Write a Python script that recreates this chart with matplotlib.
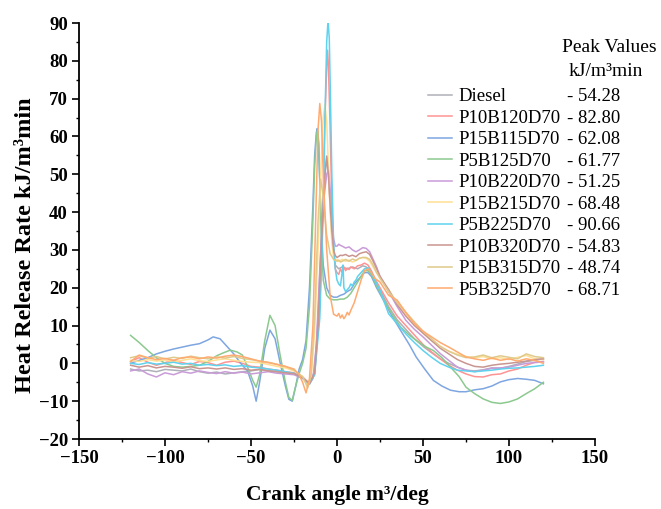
import matplotlib
matplotlib.use("Agg")
import matplotlib.pyplot as plt
from matplotlib.lines import Line2D
from matplotlib.ticker import MultipleLocator

plt.rcParams["font.family"] = ["Liberation Serif", "DejaVu Serif"]

# ---- data ----
series_names = ["Diesel", "P10B120D70", "P15B115D70", "P5B125D70", "P10B220D70",
                "P15B215D70", "P5B225D70", "P10B320D70", "P15B315D70", "P5B325D70"]
peak_labels = ["- 54.28", "- 82.80", "- 62.08", "- 61.77", "- 51.25",
               "- 68.48", "- 90.66", "- 54.83", "- 48.74", "- 68.71"]
series_colors = ["#aeb0b8", "#ff9393", "#7ea6e0", "#8cc98f", "#c99bd8",
                 "#ffdf92", "#5fd2ee", "#c99590", "#dfca8c", "#ffaa70"]

angle_base = [-120, -115, -110, -105, -100, -95, -90, -85, -80, -75,
              -70, -65, -60, -55, -50, -45, -40, -35, -30, -25]
angle_tail = [30, 35, 40, 45, 50, 55, 60, 65, 70, 75,
              80, 85, 90, 95, 100, 105, 110, 115, 120]

diesel_x = angle_base + [-20, -16, -13, -11, -9, -7, -6, -5, -3, -1,
                         1, 3, 6, 9, 12, 15, 17, 19, 22, 25] + angle_tail
diesel_y = [-1.5, -2, -1.8, -2.2, -1.6, -1.8, -2, -1.5, -2.2, -2.6,
            -2.3, -2.8, -2.5, -2.2, -2.0, -1.6, -1.9, -2.2, -2.4, -2.8,
            -3.8, -5.4, -2, 12, 35, 50, 54.28, 50, 34, 26,
            25, 25.5, 25, 25.5, 25, 25.8, 25.5, 24.5, 22, 19.5,
            15, 11.5, 9, 6.5, 4.5, 2.8, 1.2, 0, -1, -1.8,
            -2, -1.7, -1.2, -1.3, -0.8, -0.2, 0.5, 0.8, 1.2]

p10b1_x = angle_base + [-20, -16, -13, -10, -8, -7, -6, -5.5, -5, -4,
                        -3, -2, -1, 0, 1, 2, 3, 4, 5, 6,
                        7, 8, 10, 12, 14, 16, 18, 20, 22, 25] + angle_tail
p10b1_y = [0.5, 1.5, 0.3, -0.5, 0.2, 0.8, 0.2, -0.3, 0.5, 0.2,
           -0.5, 0.3, 0.6, 0, -0.8, -1, -1.5, -1.8, -2.2, -2.5,
           -3.6, -5.3, -3, 15, 45, 65, 78, 82.8, 79, 62,
           42, 30, 25, 24, 23.5, 25, 24, 25.5, 24.5, 25.2,
           24.8, 25.5, 25, 25.8, 26, 26.5, 26, 24.5, 22.5, 20,
           16, 12.5, 10, 7.5, 5, 3, 1.2, -0.5, -1.8, -2.8,
           -3.5, -3.6, -3, -2.8, -2, -1.5, -0.5, 0.3, 0.5]

p15b1_x = [-120, -115, -110, -105, -100, -95, -90, -85, -80, -75,
           -72, -68, -64, -60, -56, -52, -49, -47, -45, -42,
           -39, -36, -33, -30, -28, -26, -24, -22, -20, -18,
           -16, -14, -13, -12, -11.5, -11, -10, -9, -8, -6,
           -4, -2, 0, 2, 4, 6, 8, 10, 12, 14,
           16, 18, 20, 23, 27, 32, 37, 42, 46, 51,
           56, 61, 66, 71, 75, 80, 85, 90, 95, 100,
           105, 110, 115, 120]
p15b1_y = [0, 0.8, 1.5, 2.5, 3.2, 3.8, 4.3, 4.8, 5.2, 6.2,
           7, 6.5, 4.5, 2.5, 0, -2, -6, -10, -5, 4,
           8.8, 6.5, 0, -6, -9.5, -10, -6, -1.5, 1, 6,
           20, 42, 55, 61, 62.08, 60, 48, 35, 26, 20,
           18, 17.5, 17.5, 18, 18.3, 19, 19.5, 21, 22, 23,
           24, 24, 23, 20, 16.7, 12.5, 8.7, 5, 1.7, -1.5,
           -4.5, -6, -7.1, -7.5, -7.5, -7, -6.7, -6, -4.9, -4.3,
           -4, -4.2, -4.5, -5.4]

p5b1_x = [-120, -115, -110, -105, -100, -95, -90, -85, -80, -75,
          -70, -66, -62, -58, -55, -52, -49, -47, -45, -42,
          -39, -36, -33, -30, -28, -26, -24, -22, -20, -18,
          -16, -14, -13, -12, -11.3, -10.5, -10, -9, -8, -6,
          -4, -2, 0, 2, 4, 6, 8, 10, 12, 14,
          16, 18, 20, 23, 27, 32, 37, 42, 46, 51,
          56, 61, 66, 71, 75, 80, 85, 90, 95, 100,
          105, 110, 115, 120]
p5b1_y = [7.4, 5.5, 3.4, 1.5, 0, -0.8, -1, -0.8, -0.5, 0.5,
          2, 2.8, 3.5, 3, 2.2, -1, -4.5, -6.3, -3, 6,
          12.7, 10, 2, -5, -9, -9.8, -6, -2.7, 0, 4,
          15, 38, 52, 60, 61.77, 58, 48, 32, 22, 18,
          17, 16.8, 16.8, 17, 17, 17.5, 18.5, 20, 21.5, 23,
          24.5, 24.5, 23.5, 20.5, 17, 13, 9.6, 7.5, 6.1, 4.5,
          3.4, 1.5, -1, -3.5, -6.3, -8, -9.4, -10.3, -10.6, -10.2,
          -9.4, -8, -6.7, -5]

p10b2_x = angle_base + [-20, -16, -14, -12, -10, -8, -6, -5, -4, -3,
                        -2, -1, 0, 1, 2, 3, 5, 7, 9, 11,
                        13, 15, 17, 19, 21, 23, 25] + angle_tail
p10b2_y = [-2, -1.5, -2.8, -3.6, -2.5, -3, -2.2, -2.6, -2, -2.4,
           -2.7, -2.2, -2.6, -2.3, -2.8, -2.5, -2.2, -2.6, -2.8, -3,
           -4, -5.4, -4, 5, 25, 42, 50, 51.25, 46, 38,
           33, 31, 31, 31.5, 31.2, 31, 30.5, 30.8, 30, 29.5,
           30, 30.6, 30.4, 29.5, 27.5, 25.5, 23,
           19, 15, 11.4, 9, 7, 4.8, 2.6, 0.8, -1, -1.8,
           -2.2, -1.8, -1.3, -1.2, -1, -0.5, 0, 0.2, 0.4]

p15b2_x = angle_base + [-20, -17, -15, -13, -11, -9, -8, -7, -6, -5,
                        -4, -3, -2, -1, 0, 1, 2, 3, 5, 7,
                        9, 11, 13, 15, 17, 19, 21, 23, 25] + angle_tail
p15b2_y = [0.8, 0.5, 1, 0.6, 0.9, 0.4, 0.8, 1.2, 0.7, 0.5,
           0.9, 1.2, 0.8, 0.5, 0.3, 0.2, -0.3, -0.8, -1.2, -2,
           -3.5, -6, -3, 8, 30, 55, 65, 68.48, 64, 52,
           40, 32, 28, 27, 27.5, 27, 27.2, 27.5, 27, 27.3,
           26.8, 27.2, 27.8, 28, 27.8, 27, 25.5, 24, 22.5,
           19.5, 16, 13, 10.5, 8, 6, 4.5, 3.2, 2.4, 1.8,
           1.5, 1.8, 1.2, 1.5, 1, 1.6, 2.1, 1.2, 1]

p5b2_x = angle_base + [-20, -16, -13, -10, -8, -7, -6, -5.2, -4.5, -4,
                       -3, -2, -1, 0, 1, 2, 3, 3.5, 4, 5,
                       6, 7, 8, 9, 10, 11, 12, 14, 16, 18,
                       20, 22, 25] + angle_tail
p5b2_y = [0, -0.3, 0.2, -0.2, 0, 0.3, -0.2, 0, -0.5, -0.3,
          -0.6, -0.4, -0.8, -0.6, -1, -1.2, -1.5, -1.8, -2.2, -2.6,
          -3.8, -5.5, -3, 12, 40, 65, 85, 90.66, 86, 75,
          50, 32, 25, 22, 21, 20.5, 24, 26, 20, 19,
          19.5, 20, 21, 20.5, 21.5, 22, 23, 24, 25, 25.3,
          24, 22, 19.3,
          13.1, 10.5, 7.8, 5.5, 3.4, 1.6, 0, -1, -1.8, -2,
          -2.2, -2, -1.8, -1.5, -1.3, -1.2, -1, -0.8, -0.5]

p10b3_x = angle_base + [-20, -16, -13, -11, -9, -7, -6, -5, -4, -3,
                        -2, -1, 0, 1, 2, 3, 5, 7, 9, 11,
                        13, 15, 17, 19, 21, 23, 25] + angle_tail
p10b3_y = [-0.5, -1, -0.6, -1.2, -0.8, -1, -1.3, -0.9, -1.4, -1.2,
           -1.5, -1.2, -1.6, -1.4, -1.8, -1.6, -2, -2.2, -2.5, -2.7,
           -3.8, -5.4, -2.5, 10, 32, 50, 54.83, 50, 42, 35,
           30, 28.5, 28, 28.3, 28.6, 28.5, 28.8, 28.3, 28.6, 28.2,
           29, 29.3, 29.5, 28.8, 27, 25, 23,
           19.5, 15.5, 12.5, 10, 8, 6, 4, 2.5, 1, 0,
           -0.8, -1, -0.5, -0.2, 0, 0.3, 0.6, 1, 1.2]

p15b3_x = angle_base + [-20, -17, -15, -13, -11, -9.5, -8, -6, -4, -2,
                        0, 1, 2, 3, 5, 7, 9, 11, 13, 15,
                        17, 19, 21, 23, 25] + angle_tail
p15b3_y = [1.5, 2, 1.4, 1.8, 1.2, 1.6, 1.3, 1.9, 1.5, 1.2,
           1.7, 1.4, 1.8, 1.3, 1.0, 0.6, 0.3, -0.2, -0.8, -1.8,
           -3.5, -6.5, -3, 12, 38, 48.74, 44, 34, 29, 27.5,
           27, 27.3, 26.8, 27, 27.5, 27, 27.6, 27.2, 27.8, 28,
           28, 27.5, 26, 24, 22.5,
           19, 16, 13.5, 11, 8.5, 6.5, 4.5, 3.2, 2.2, 1.5,
           1.7, 2.2, 1.5, 2, 1.6, 1.2, 2.5, 1.8, 1.5]

p5b3_x = angle_base + [-22, -20, -18, -16, -14, -12, -11, -10, -9, -8,
                       -6, -4, -2, 0, 1, 2, 3, 4, 5, 6,
                       7, 8, 10, 12, 14, 16, 18, 20, 22, 25] + angle_tail
p5b3_y = [0.5, 2.2, 1.5, 1.0, 1.3, 0.8, 1.5, 1.7, 1.2, 1.7,
          1.4, 1.9, 2.2, 1.8, 1.2, 0.6, 0.2, -0.3, -0.8, -1.5,
          -3, -5, -7.8, -4, 10, 45, 62, 68.71, 64, 50,
          30, 18, 13, 12.5, 13.2, 12, 12.8, 11.8, 12.5, 13.5,
          12.8, 14, 16, 19, 22, 24.5, 25, 24, 22.5, 21.5,
          18, 16.7, 13.5, 10.5, 8.5, 7, 5.5, 4.3, 3, 1.7,
          1.2, 0.8, 1.4, 0.8, 1.2, 0.6, 1.2, 0.8, 0]

series_x = [diesel_x, p10b1_x, p15b1_x, p5b1_x, p10b2_x,
            p15b2_x, p5b2_x, p10b3_x, p15b3_x, p5b3_x]
series_y = [diesel_y, p10b1_y, p15b1_y, p5b1_y, p10b2_y,
            p15b2_y, p5b2_y, p10b3_y, p15b3_y, p5b3_y]


def main():
    fig = plt.figure(figsize=(6.61, 5.09), dpi=100)
    ax = fig.add_axes([79 / 661, 1 - 439 / 509, 516 / 661, 416 / 509])

    lines = []
    for xs, ys, color, name in zip(series_x, series_y, series_colors, series_names):
        (ln,) = ax.plot(xs, ys, color=color, lw=1.1, label=name)
        lines.append(ln)

    ax.set_xlim(-150, 150)
    ax.set_ylim(-20, 90)
    ax.xaxis.set_major_locator(MultipleLocator(50))
    ax.xaxis.set_minor_locator(MultipleLocator(25))
    ax.yaxis.set_major_locator(MultipleLocator(10))
    ax.yaxis.set_minor_locator(MultipleLocator(5))
    for side in ("top", "right"):
        ax.spines[side].set_visible(False)
    for side in ("left", "bottom"):
        ax.spines[side].set_linewidth(1.3)
    ax.tick_params(which="major", direction="out", length=5, width=1.2, pad=3)
    ax.tick_params(which="minor", direction="out", length=2.5, width=1.0)
    for lbl in ax.get_xticklabels() + ax.get_yticklabels():
        lbl.set_fontsize(13.5)
        lbl.set_fontweight("bold")

    ax.set_xlabel("Crank angle m³/deg", fontsize=15.5, fontweight="bold", labelpad=13)
    ax.set_ylabel("Heat Release Rate kJ/m³min", fontsize=17.5, fontweight="bold")
    ax.yaxis.set_label_coords(-0.083, 0.466)

    # legend: names in column 1, peak values in column 2
    blanks = [Line2D([], [], color="none") for _ in series_names]
    fig.legend(lines + blanks, series_names + peak_labels, ncol=2,
               loc="upper left", bbox_to_anchor=(428 / 661, 1 - 88 / 509),
               frameon=False, fontsize=13.5, borderpad=0, borderaxespad=0,
               handlelength=1.3, handletextpad=0.35, columnspacing=-1.35,
               labelspacing=0.235)
    fig.text(609 / 661, 1 - 48 / 509, "Peak Values", fontsize=14, ha="center", va="center")
    fig.text(606 / 661, 1 - 72 / 509, "kJ/m³min", fontsize=14, ha="center", va="center")

    fig.savefig("out.png", dpi=100)
    plt.close(fig)


if __name__ == "__main__":
    main()
